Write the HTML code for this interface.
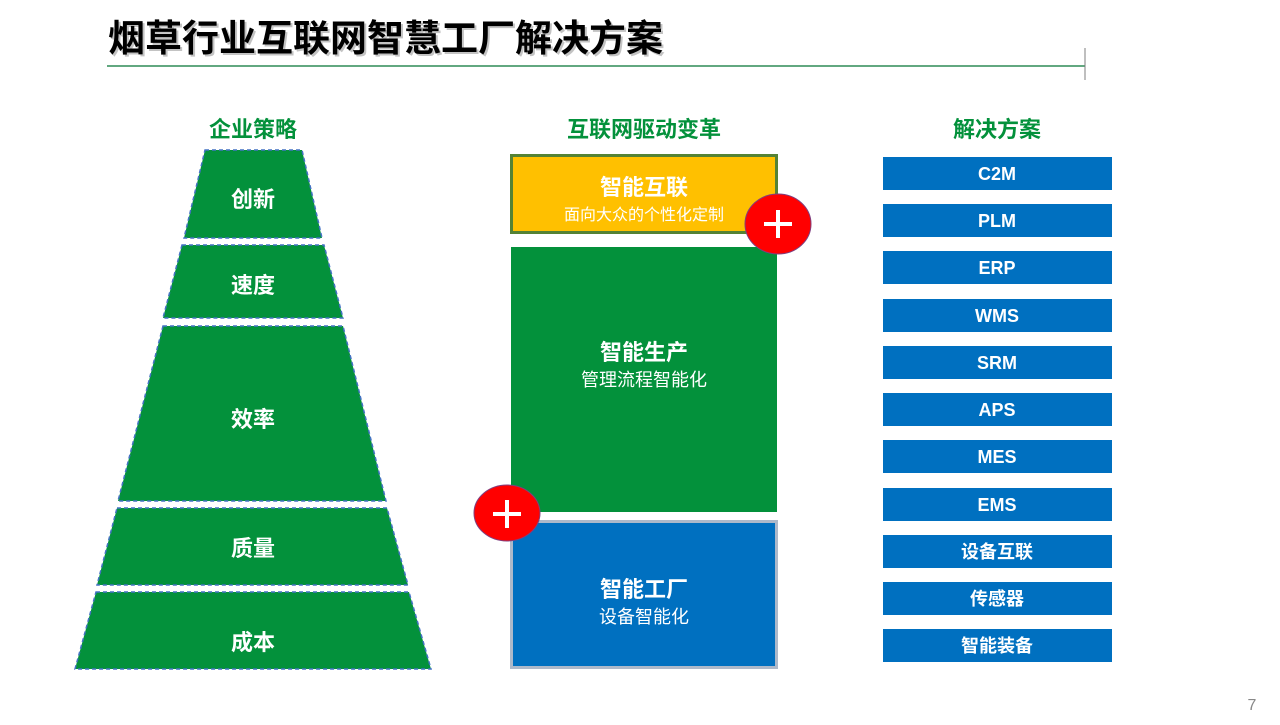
<!DOCTYPE html>
<html><head><meta charset="utf-8"><style>
body{margin:0;width:1280px;height:720px;background:#fff;overflow:hidden;font-family:"Liberation Sans","Noto Sans CJK SC",sans-serif}
</style></head><body>
<svg width="1280" height="720" xmlns="http://www.w3.org/2000/svg" font-family="Liberation Sans, Noto Sans CJK SC, sans-serif">
<text x="110" y="53" font-size="37" font-weight="bold" fill="#888" opacity="0.5">烟草行业互联网智慧工厂解决方案</text>
<text x="108" y="51" font-size="37" font-weight="bold" fill="#000">烟草行业互联网智慧工厂解决方案</text>
<line x1="107" y1="66" x2="1085" y2="66" stroke="#2e8b57" stroke-width="1.5"/>
<line x1="1085" y1="48" x2="1085" y2="80" stroke="#7f7f7f" stroke-width="1"/>
<g font-size="22" font-weight="bold" fill="#03913b" text-anchor="middle">
<text x="253" y="137">企业策略</text><text x="644" y="137">互联网驱动变革</text><text x="997" y="137">解决方案</text></g>
<g fill="#03913b" stroke="#4472c4" stroke-width="1.5" stroke-dasharray="4,3">
<polygon points="205,150 302,150 322,238 184,238"/>
<polygon points="182,245 324,245 343,318 163,318"/>
<polygon points="163,326 343,326 386,501 118,501"/>
<polygon points="117,508 387,508 408,585 97,585"/>
<polygon points="96,592 409,592 431,669 75,669"/></g>
<g font-size="22" font-weight="bold" fill="#fff" text-anchor="middle">
<text x="253" y="207">创新</text><text x="253" y="293">速度</text><text x="253" y="427">效率</text><text x="253" y="556">质量</text><text x="253" y="650">成本</text></g>
<rect x="511.5" y="155.5" width="265" height="77" fill="#ffc000" stroke="#548235" stroke-width="3"/>
<rect x="511" y="247" width="266" height="265" fill="#03913b"/>
<rect x="511.5" y="521.5" width="265" height="146" fill="#0070c0" stroke="#adb9ca" stroke-width="3"/>
<g fill="#fff" text-anchor="middle">
<text x="644" y="195" font-size="22" font-weight="bold">智能互联</text>
<text x="644" y="220" font-size="16">面向大众的个性化定制</text>
<text x="644" y="360" font-size="22" font-weight="bold">智能生产</text>
<text x="644" y="386" font-size="18">管理流程智能化</text>
<text x="644" y="597" font-size="22" font-weight="bold">智能工厂</text>
<text x="644" y="623" font-size="18">设备智能化</text></g>
<ellipse cx="778" cy="224" rx="33" ry="30" fill="#ff0000" stroke="#7f3f7f" stroke-width="1"/>
<path d="M764 224h28M778 210v28" stroke="#fff" stroke-width="4"/>
<ellipse cx="507" cy="513" rx="33" ry="28" fill="#ff0000" stroke="#7f3f7f" stroke-width="1"/>
<path d="M493 514h28M507 500v28" stroke="#fff" stroke-width="4"/>
<g fill="#0070c0">
<rect x="883" y="157" width="229" height="33"/><rect x="883" y="204" width="229" height="33"/><rect x="883" y="251" width="229" height="33"/><rect x="883" y="299" width="229" height="33"/><rect x="883" y="346" width="229" height="33"/><rect x="883" y="393" width="229" height="33"/><rect x="883" y="440" width="229" height="33"/><rect x="883" y="488" width="229" height="33"/><rect x="883" y="535" width="229" height="33"/><rect x="883" y="582" width="229" height="33"/><rect x="883" y="629" width="229" height="33"/></g>
<g font-size="18" font-weight="bold" fill="#fff" text-anchor="middle">
<text x="997" y="180">C2M</text><text x="997" y="227">PLM</text><text x="997" y="274">ERP</text><text x="997" y="322">WMS</text><text x="997" y="369">SRM</text><text x="997" y="416">APS</text><text x="997" y="463">MES</text><text x="997" y="511">EMS</text><text x="997" y="558">设备互联</text><text x="997" y="605">传感器</text><text x="997" y="652">智能装备</text></g>
<text x="1252" y="710" font-size="16" fill="#888" text-anchor="middle">7</text>
</svg>
</body></html>
